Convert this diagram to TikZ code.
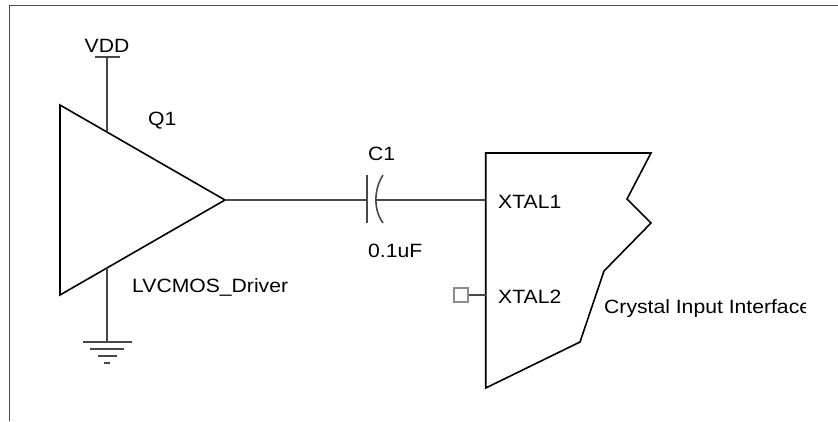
\documentclass[tikz,border=0pt]{standalone}
\usepackage{fontspec}
\setmainfont{Liberation Sans}[FakeStretch=1.1]
\usetikzlibrary{calc}
\def\drawwire{\draw[color=black!72, line width=1.6pt]}
\def\drawbody{\draw[color=black, line width=1.6pt, line join=miter]}
\def\drawpin{\draw[color=black!45, line width=1.4pt]}
\def\labnode{\node[inner sep=0pt, font=\fontsize{19.3}{22}\selectfont]}

\begin{document}
\begin{tikzpicture}[x=1bp,y=-1bp]
\useasboundingbox (0,0) rectangle (838,421);
\draw[color=black!70, line width=1.5pt] (9.5,421) -- (9.5,5.5) -- (838,5.5); % sheet edge

% -------- driver Q1 ---------
\coordinate (dtop) at (60,105);
\coordinate (dbot) at (60,295);
\coordinate (tip) at (225,200);
\drawbody (dtop) -- (tip) -- (dbot) -- cycle;
\coordinate (vddpin) at ($ (dtop)!0.285!(tip) $);
\coordinate (gndpin) at ($ (dbot)!0.285!(tip) $);
\labnode[anchor=base west] (q1) at (148,125) {Q1};
\labnode[anchor=base west] (drv) at (132,292) {LVCMOS\_Driver};

% supply
\coordinate (vddbar) at ($ (vddpin) + (0,-75) $);
\drawwire (vddpin) -- (vddbar);
\drawwire ($ (vddbar) + (-12,0) $) -- ($ (vddbar) + (13,0) $);
\labnode[anchor=base] (vdd) at ($ (vddbar) + (0,-5) $) {VDD};

% ground
\coordinate (gnd) at ($ (gndpin) + (0,74) $);
\drawwire (gndpin) -- (gnd);
\drawwire ($ (gnd) + (-24.5,0) $) -- ($ (gnd) + (24.5,0) $);
\drawwire ($ (gnd) + (-17,7) $) -- ($ (gnd) + (17,7) $);
\drawwire ($ (gnd) + (-9.5,14) $) -- ($ (gnd) + (9.5,14) $);
\drawwire ($ (gnd) + (-3,21) $) -- ($ (gnd) + (3,21) $);
% ------ end driver ------

% -------- capacitor C1 ---------
\coordinate (capL) at (367,200);
\coordinate (capR) at (376,200);
\drawwire (tip) -- (capL);
\drawwire ($ (capL) + (0,-25) $) -- ($ (capL) + (0,23) $); % flat plate
\drawwire ($ (capR) + (7,-25) $) .. controls ($ (capR) + (-2.5,-10) $) and ($ (capR) + (-2.5,10) $) .. ($ (capR) + (7,23) $); % curved plate
\labnode[anchor=base west] (c1) at (368,160) {C1};
\labnode[anchor=base west] (cval) at (368,257) {0.1uF};

% -------- crystal input block ---------
\coordinate (xtal1) at (485.7,200);
\coordinate (xtal2) at (485.7,295);
\drawwire (capR) -- (xtal1);
\drawbody (485.7,153) -- (651,153) -- (627,199) -- (651,223) -- (604,271)
  -- (580,342) -- (485.7,388) -- cycle;
\labnode[anchor=base west] (x1) at (498,208) {XTAL1};
\labnode[anchor=base west] (x2) at (498,303) {XTAL2};
\coordinate (x2open) at ($ (xtal2) + (-17.7,0) $);
\drawwire (x2open) -- (xtal2);
\drawpin ($ (x2open) + (-14,-7) $) rectangle ($ (x2open) + (0,7) $); % open pin
\begin{scope}
\clip (0,0) rectangle (805,421);
\labnode[anchor=base west] (cii) at (604,313) {Crystal Input Interface};
\end{scope}
\end{tikzpicture}
\end{document}
